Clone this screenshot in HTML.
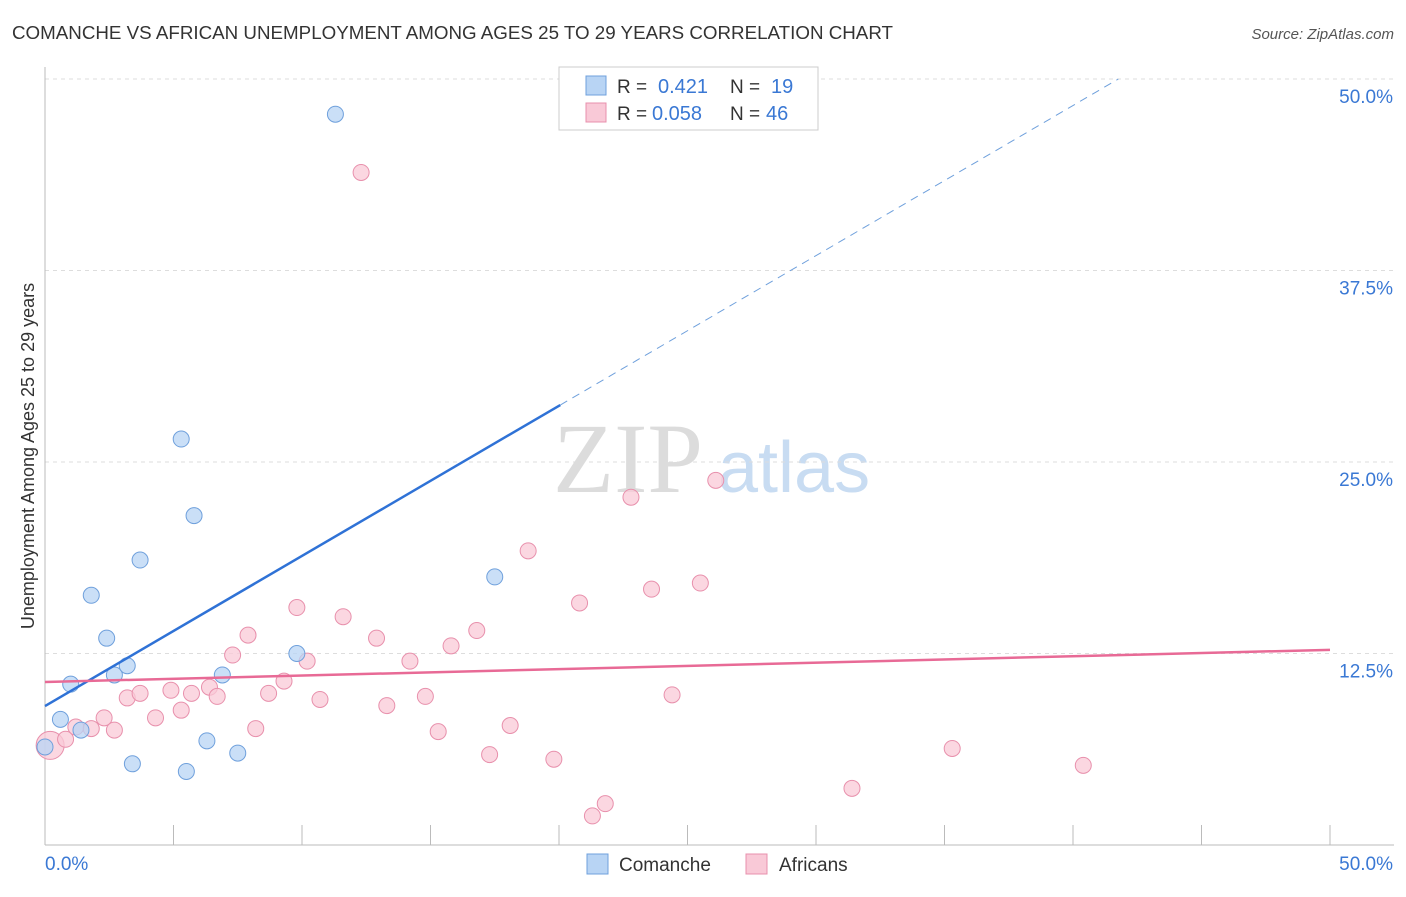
<!DOCTYPE html>
<html><head><meta charset="utf-8">
<style>
body{margin:0;background:#fff;font-family:"Liberation Sans",sans-serif;}
svg text{font-family:"Liberation Sans",sans-serif;}
</style></head>
<body>
<svg id="chart" width="1406" height="892">
<text x="12" y="39" font-size="18" fill="#333" textLength="881" lengthAdjust="spacingAndGlyphs">COMANCHE VS AFRICAN UNEMPLOYMENT AMONG AGES 25 TO 29 YEARS CORRELATION CHART</text>
<text x="1394" y="39" font-size="15" fill="#555" font-style="italic" text-anchor="end">Source: ZipAtlas.com</text>
<text x="0" y="0" transform="translate(34,456) rotate(-90)" font-size="18" fill="#333" text-anchor="middle">Unemployment Among Ages 25 to 29 years</text>
<text x="553" y="492" font-size="100" fill="#dcdcdc" font-family="Liberation Serif" style="font-family:'Liberation Serif',serif">ZIP</text>
<text x="718" y="492" font-size="72" fill="#c8dcf2">atlas</text>
<g id="grid"></g><g id="axes"></g><g id="marks"></g>
<g>
<rect x="559" y="67" width="259" height="63" fill="#fff" stroke="#ccc"/>
<rect x="586" y="76" width="20" height="19" fill="#b8d4f4" stroke="#6fa0dc"/>
<rect x="586" y="103" width="20" height="19" fill="#f9c9d7" stroke="#e890ac"/>
<text x="617" y="93" font-size="19" fill="#333">R = </text><text x="658" y="93" font-size="20" fill="#3a78d4">0.421</text>
<text x="730" y="93" font-size="19" fill="#333">N = </text><text x="771" y="93" font-size="20" fill="#3a78d4">19</text>
<text x="617" y="120" font-size="19" fill="#333">R = </text><text x="652" y="120" font-size="20" fill="#3a78d4">0.058</text>
<text x="730" y="120" font-size="19" fill="#333">N = </text><text x="766" y="120" font-size="20" fill="#3a78d4">46</text>
</g>
<g>
<rect x="587" y="854" width="21" height="20" fill="#b8d4f4" stroke="#6fa0dc"/>
<text x="619" y="871" font-size="19" fill="#333">Comanche</text>
<rect x="746" y="854" width="21" height="20" fill="#f9c9d7" stroke="#e890ac"/>
<text x="779" y="871" font-size="19" fill="#333">Africans</text>
</g>
</svg>
<script>
const blueX=[0,0.6,1,1.4,1.8,2.4,2.7,3.2,3.4,3.7,5.3,5.5,5.8,6.3,6.9,7.5,9.8,11.3,17.5];
const blueY=[6.4,8.2,10.5,7.5,16.3,13.5,11.1,11.7,5.3,18.6,26.5,4.8,21.5,6.8,11.1,6.0,12.5,47.7,17.5];
const pinkX=[0.2,0.8,1.2,1.8,2.3,2.7,3.2,3.7,4.3,4.9,5.3,5.7,6.4,6.7,7.3,7.9,8.2,8.7,9.3,9.8,10.2,10.7,11.6,12.3,12.9,13.3,14.2,14.8,15.3,15.8,16.8,17.3,18.1,18.8,19.8,20.8,21.3,21.8,22.8,23.6,24.4,25.5,26.1,31.4,35.3,40.4];
const pinkY=[6.5,6.9,7.7,7.6,8.3,7.5,9.6,9.9,8.3,10.1,8.8,9.9,10.3,9.7,12.4,13.7,7.6,9.9,10.7,15.5,12.0,9.5,14.9,43.9,13.5,9.1,12.0,9.7,7.4,13.0,14.0,5.9,7.8,19.2,5.6,15.8,1.9,2.7,22.7,16.7,9.8,17.1,23.8,3.7,6.3,5.2];
const blueLine=[9.07,0.98], pinkLine=[10.64,0.042];
const yTicks=[12.5,25,37.5,50];
const xTickLabels=["0.0%","50.0%"];
const X=v=>45+v*25.7, Y=v=>845-v*15.32;
const NS="http://www.w3.org/2000/svg";
function mk(p,t,a){const e=document.createElementNS(NS,t);for(const k in a)e.setAttribute(k,a[k]);p.appendChild(e);return e;}
const grid=document.getElementById('grid'),axes=document.getElementById('axes'),marks=document.getElementById('marks');
yTicks.forEach(v=>{
 const l=mk(grid,'line',{x1:45,x2:1394,y1:Y(v),y2:Y(v),stroke:'#ddd','stroke-dasharray':'4,4'});
 
 
 const t=mk(axes,'text',{x:1393,y:Y(v)+24,'font-size':19,fill:'#3a78d4','text-anchor':'end'});
 t.textContent=v.toFixed(1)+'%';
 
 
});
mk(axes,'line',{x1:45,x2:45,y1:67,y2:845,stroke:'#bbb'});
mk(axes,'line',{x1:45,x2:1394,y1:845,y2:845,stroke:'#bbb'});
for(let i=0;i<=10;i++){mk(axes,'line',{x1:X(i*5),x2:X(i*5),y1:825,y2:845,stroke:'#bbb'});}
const xl0=mk(axes,'text',{x:45,y:870,'font-size':19,fill:'#3a78d4'});xl0.textContent=xTickLabels[0];


const xl1=mk(axes,'text',{x:1393,y:870,'font-size':19,fill:'#3a78d4','text-anchor':'end'});xl1.textContent=xTickLabels[1];


pinkX.forEach((x,i)=>{
 const c=mk(marks,'circle',{cx:X(x),cy:Y(pinkY[i]),r:i==0?14:8,fill:'#f9c9d7','fill-opacity':0.75,stroke:'#e890ac','stroke-width':1});
 
 
});
blueX.forEach((x,i)=>{
 const c=mk(marks,'circle',{cx:X(x),cy:Y(blueY[i]),r:8,fill:'#b8d4f4','fill-opacity':0.75,stroke:'#6fa0dc','stroke-width':1});
 
 
});
const bx1=20.05, bx2=(50-blueLine[0])/blueLine[1];
const bl=mk(marks,'line',{x1:X(0),y1:Y(blueLine[0]),x2:X(bx1),y2:Y(blueLine[0]+blueLine[1]*bx1),stroke:'#2f72d6','stroke-width':2.5});


const bd=mk(marks,'line',{x1:X(bx1),y1:Y(blueLine[0]+blueLine[1]*bx1),x2:X(bx2),y2:Y(50),stroke:'#6fa0dc','stroke-width':1,'stroke-dasharray':'8,6'});


const pl=mk(marks,'line',{x1:X(0),y1:Y(pinkLine[0]),x2:X(50),y2:Y(pinkLine[0]+pinkLine[1]*50),stroke:'#e86a96','stroke-width':2.5});


</script>
</body></html>
